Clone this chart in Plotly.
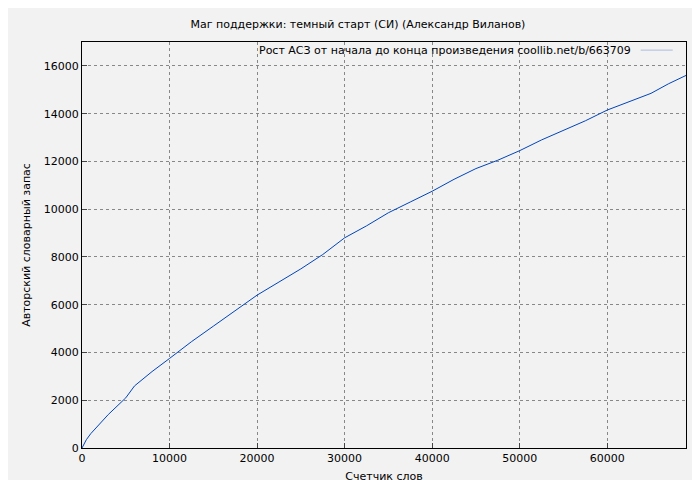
import plotly.graph_objects as go

words = [0, 500, 1000, 2000, 3000, 4000, 5000, 6000, 8000, 10000, 12500, 15000, 17500, 20000, 22500, 25000, 27500, 30000, 32500, 35000, 37500, 40000, 42500, 45000, 47500, 50000, 52500, 55000, 57500, 60000, 62500, 65000, 67000, 69000]
vocab = [0, 350, 600, 1000, 1400, 1750, 2100, 2600, 3200, 3750, 4450, 5100, 5750, 6400, 6950, 7500, 8100, 8800, 9300, 9850, 10300, 10750, 11250, 11700, 12050, 12450, 12900, 13300, 13700, 14150, 14500, 14850, 15250, 15600]
legend_text = "Рост АСЗ от начала до конца произведения coollib.net/b/663709"

fig = go.Figure(go.Scatter(x=words, y=vocab, mode="lines",
    line=dict(color="#0044bb", width=1), showlegend=False))
ax = dict(showgrid=True, gridcolor="#888", griddash="dot", gridwidth=1,
          showline=True, linecolor="black", mirror=True, ticks="inside",
          ticklen=5, zeroline=False, tickfont=dict(size=11), automargin=False,
          tickformat="d")
fig.update_layout(
    width=700, height=480, template="simple_white",
    paper_bgcolor="#f2f2f2", plot_bgcolor="#f2f2f2",
    font=dict(family="DejaVu Sans", size=11, color="black"),
    title=dict(text="Маг поддержки: темный старт (СИ) (Александр Виланов)", x=0.5, y=0.975, font=dict(size=11)),
    margin=dict(l=74, r=22, t=34, b=40, autoexpand=False),
    xaxis=dict(ax, range=[0, 69000], dtick=10000, title=dict(text="Счетчик слов", standoff=8, font=dict(size=11))),
    yaxis=dict(ax, range=[0, 17000], dtick=2000, title=dict(text="Авторский словарный запас", standoff=10, font=dict(size=11))),
    showlegend=False,
)
fig.add_annotation(xref="paper", yref="paper", x=0.912, y=0.980, xanchor="right", yanchor="middle",
                   text=legend_text, showarrow=False, font=dict(size=11))
fig.add_shape(type="line", xref="paper", yref="paper", x0=0.925, x1=0.978, y0=0.980, y1=0.980,
              line=dict(color="#0044bb", width=1))
fig.write_html("out.html")
